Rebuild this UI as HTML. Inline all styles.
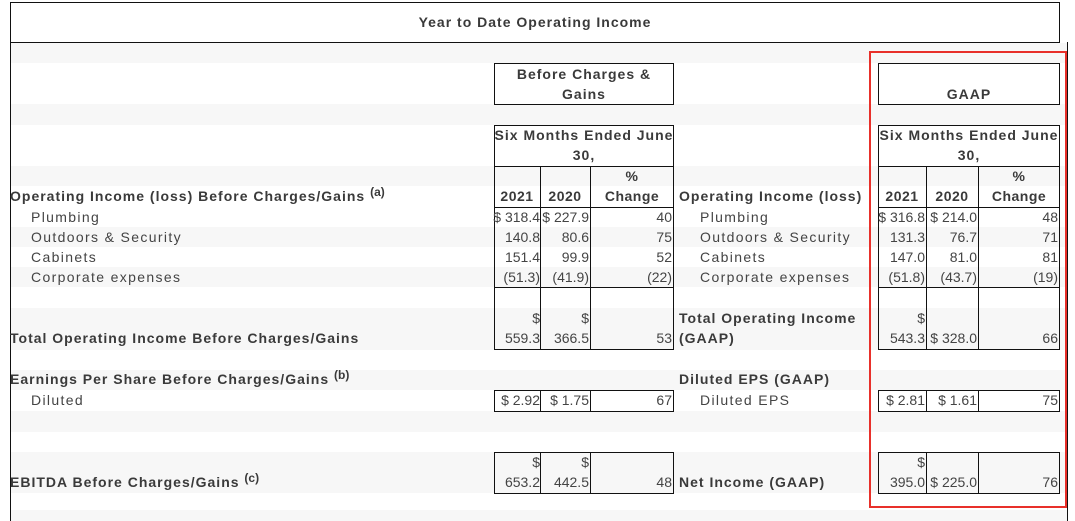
<!DOCTYPE html>
<html><head><meta charset="utf-8"><style>
body{margin:0;width:1075px;height:521px;background:#fff;position:relative;overflow:hidden;font-family:"Liberation Sans",Arial,sans-serif;color:#444;font-size:14px}
div{position:absolute;box-sizing:border-box}
.g{background:#f7f7f7;left:11px;width:1057px}
.b{border:1px solid #111}
.t{line-height:18px;white-space:nowrap}
.r{text-align:right}
.bd{font-weight:bold;color:#3a3a3a;letter-spacing:1px}
.lab{letter-spacing:1.35px}
.ctr{text-align:center;font-weight:bold;color:#3a3a3a;line-height:20px;letter-spacing:1px}
.hd{letter-spacing:0.5px}
sup{font-size:12px;letter-spacing:0;line-height:0;vertical-align:5px}
</style></head><body>
<div class="g" style="top:43px;height:20px"></div>
<div class="g" style="top:104px;height:21px"></div>
<div class="g" style="top:166px;height:20px"></div>
<div class="g" style="top:227px;height:20px"></div>
<div class="g" style="top:267px;height:20px"></div>
<div class="g" style="top:308px;height:42px"></div>
<div class="g" style="top:370px;height:20px"></div>
<div class="g" style="top:411px;height:21px"></div>
<div class="g" style="top:452px;height:41px"></div>
<div class="g" style="top:510px;height:11px"></div>
<div style="left:10px;top:42px;width:1px;height:479px;background:#111"></div>
<div style="left:1067px;top:42px;width:1px;height:479px;background:#111"></div>
<div class="b" style="left:10px;top:2px;width:1050px;height:41px;"></div>
<div class="ctr" style="left:10px;top:12px;width:1050px">Year to Date Operating Income</div>

<div class="b" style="left:494px;top:63px;width:180px;height:42px"></div>
<div class="ctr" style="left:494px;top:64px;width:180px">Before Charges &amp;<br>Gains</div>
<div class="b" style="left:494px;top:125px;width:180px;height:42px"></div>
<div class="ctr" style="left:494px;top:125px;width:180px">Six Months Ended June<br>30,</div>
<div class="b" style="left:494px;top:166px;width:180px;height:184px"></div>
<div style="left:494px;top:207px;width:180px;height:1px;background:#111"></div>
<div style="left:494px;top:287px;width:180px;height:1px;background:#111"></div>
<div style="left:540px;top:166px;width:1px;height:184px;background:#111"></div>
<div style="left:590px;top:166px;width:1px;height:184px;background:#111"></div>
<div class="b" style="left:494px;top:390px;width:180px;height:22px"></div>
<div style="left:540px;top:390px;width:1px;height:22px;background:#111"></div>
<div style="left:590px;top:390px;width:1px;height:22px;background:#111"></div>
<div class="b" style="left:494px;top:452px;width:180px;height:42px"></div>
<div style="left:540px;top:452px;width:1px;height:42px;background:#111"></div>
<div style="left:590px;top:452px;width:1px;height:42px;background:#111"></div>

<div class="b" style="left:878px;top:63px;width:182px;height:42px"></div>
<div class="ctr" style="left:878px;top:84px;width:182px">GAAP</div>
<div class="b" style="left:878px;top:125px;width:182px;height:42px"></div>
<div class="ctr" style="left:878px;top:125px;width:182px">Six Months Ended June<br>30,</div>
<div class="b" style="left:878px;top:166px;width:182px;height:184px"></div>
<div style="left:878px;top:207px;width:182px;height:1px;background:#111"></div>
<div style="left:878px;top:287px;width:182px;height:1px;background:#111"></div>
<div style="left:926px;top:166px;width:1px;height:184px;background:#111"></div>
<div style="left:978px;top:166px;width:1px;height:184px;background:#111"></div>
<div class="b" style="left:878px;top:390px;width:182px;height:22px"></div>
<div style="left:926px;top:390px;width:1px;height:22px;background:#111"></div>
<div style="left:978px;top:390px;width:1px;height:22px;background:#111"></div>
<div class="b" style="left:878px;top:452px;width:182px;height:42px"></div>
<div style="left:926px;top:452px;width:1px;height:42px;background:#111"></div>
<div style="left:978px;top:452px;width:1px;height:42px;background:#111"></div>

<div style="left:869px;top:51px;width:198px;height:457px;border:2px solid #e8302a"></div>

<div class="t bd" style="left:10px;top:187px">Operating Income (loss) Before Charges/Gains <sup>(a)</sup></div>
<div class="t lab" style="left:31px;top:208px">Plumbing</div>
<div class="t lab" style="left:31px;top:228px">Outdoors &amp; Security</div>
<div class="t lab" style="left:31px;top:248px">Cabinets</div>
<div class="t lab" style="left:31px;top:268px">Corporate expenses</div>
<div class="t bd" style="left:10px;top:329px">Total Operating Income Before Charges/Gains</div>
<div class="t bd" style="left:10px;top:370px">Earnings Per Share Before Charges/Gains <sup>(b)</sup></div>
<div class="t lab" style="left:31px;top:391px">Diluted</div>
<div class="t bd" style="left:10px;top:473px">EBITDA Before Charges/Gains <sup>(c)</sup></div>

<div class="t bd" style="left:679px;top:187px">Operating Income (loss)</div>
<div class="t lab" style="left:700px;top:208px">Plumbing</div>
<div class="t lab" style="left:700px;top:228px">Outdoors &amp; Security</div>
<div class="t lab" style="left:700px;top:248px">Cabinets</div>
<div class="t lab" style="left:700px;top:268px">Corporate expenses</div>
<div class="t bd" style="left:679px;top:309px">Total Operating Income</div>
<div class="t bd" style="left:679px;top:329px">(GAAP)</div>
<div class="t bd" style="left:679px;top:370px">Diluted EPS (GAAP)</div>
<div class="t lab" style="left:700px;top:391px">Diluted EPS</div>
<div class="t bd" style="left:679px;top:473px">Net Income (GAAP)</div>

<div class="t bd hd" style="left:494px;top:187px;width:46px;text-align:center">2021</div>
<div class="t bd hd" style="left:540px;top:187px;width:50px;text-align:center">2020</div>
<div class="t bd hd" style="left:590px;top:167px;width:84px;text-align:center">%</div>
<div class="t bd hd" style="left:590px;top:187px;width:84px;text-align:center">Change</div>
<div class="t bd hd" style="left:878px;top:187px;width:48px;text-align:center">2021</div>
<div class="t bd hd" style="left:926px;top:187px;width:52px;text-align:center">2020</div>
<div class="t bd hd" style="left:978px;top:167px;width:82px;text-align:center">%</div>
<div class="t bd hd" style="left:978px;top:187px;width:82px;text-align:center">Change</div>

<div class="t r" style="right:535px;top:208px">$ 318.4</div>
<div class="t r" style="right:486px;top:208px">$ 227.9</div>
<div class="t r" style="right:403px;top:208px">40</div>
<div class="t r" style="right:535px;top:228px">140.8</div>
<div class="t r" style="right:486px;top:228px">80.6</div>
<div class="t r" style="right:403px;top:228px">75</div>
<div class="t r" style="right:535px;top:248px">151.4</div>
<div class="t r" style="right:486px;top:248px">99.9</div>
<div class="t r" style="right:403px;top:248px">52</div>
<div class="t r" style="right:535px;top:268px">(51.3)</div>
<div class="t r" style="right:486px;top:268px">(41.9)</div>
<div class="t r" style="right:403px;top:268px">(22)</div>
<div class="t r" style="right:535px;top:309px">$</div>
<div class="t r" style="right:486px;top:309px">$</div>
<div class="t r" style="right:535px;top:329px">559.3</div>
<div class="t r" style="right:486px;top:329px">366.5</div>
<div class="t r" style="right:403px;top:329px">53</div>
<div class="t r" style="right:535px;top:391px">$ 2.92</div>
<div class="t r" style="right:486px;top:391px">$ 1.75</div>
<div class="t r" style="right:403px;top:391px">67</div>
<div class="t r" style="right:535px;top:453px">$</div>
<div class="t r" style="right:486px;top:453px">$</div>
<div class="t r" style="right:535px;top:473px">653.2</div>
<div class="t r" style="right:486px;top:473px">442.5</div>
<div class="t r" style="right:403px;top:473px">48</div>

<div class="t r" style="right:150px;top:208px">$ 316.8</div>
<div class="t r" style="right:98px;top:208px">$ 214.0</div>
<div class="t r" style="right:17px;top:208px">48</div>
<div class="t r" style="right:150px;top:228px">131.3</div>
<div class="t r" style="right:98px;top:228px">76.7</div>
<div class="t r" style="right:17px;top:228px">71</div>
<div class="t r" style="right:150px;top:248px">147.0</div>
<div class="t r" style="right:98px;top:248px">81.0</div>
<div class="t r" style="right:17px;top:248px">81</div>
<div class="t r" style="right:150px;top:268px">(51.8)</div>
<div class="t r" style="right:98px;top:268px">(43.7)</div>
<div class="t r" style="right:17px;top:268px">(19)</div>
<div class="t r" style="right:150px;top:309px">$</div>
<div class="t r" style="right:150px;top:329px">543.3</div>
<div class="t r" style="right:98px;top:329px">$ 328.0</div>
<div class="t r" style="right:17px;top:329px">66</div>
<div class="t r" style="right:150px;top:391px">$ 2.81</div>
<div class="t r" style="right:98px;top:391px">$ 1.61</div>
<div class="t r" style="right:17px;top:391px">75</div>
<div class="t r" style="right:150px;top:453px">$</div>
<div class="t r" style="right:150px;top:473px">395.0</div>
<div class="t r" style="right:98px;top:473px">$ 225.0</div>
<div class="t r" style="right:17px;top:473px">76</div>
</body></html>
